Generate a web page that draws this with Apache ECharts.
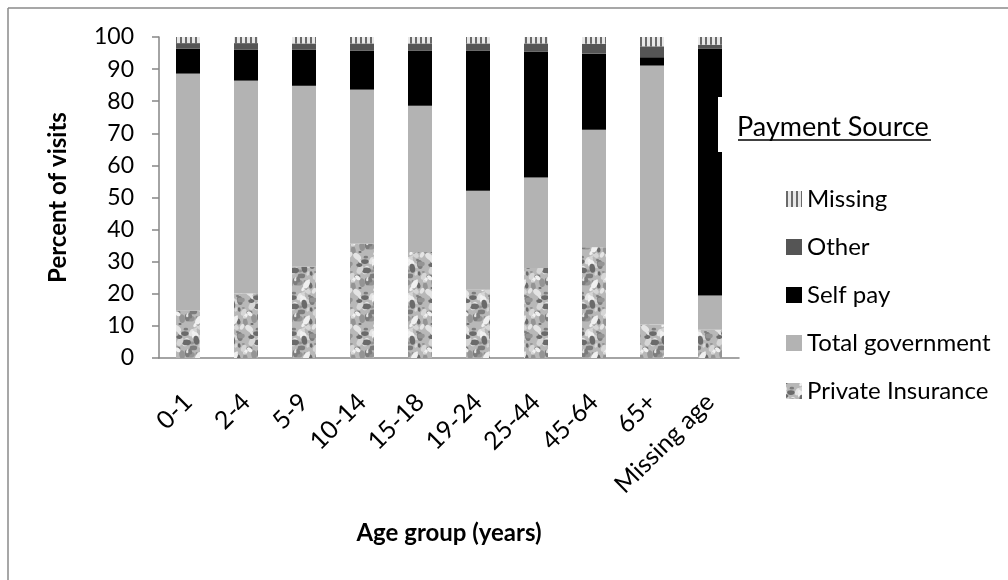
<!DOCTYPE html>
<html><head><meta charset="utf-8">
<script src="https://cdn.jsdelivr.net/npm/echarts@6/dist/echarts.min.js"></script>
<style>html,body{margin:0;padding:0;background:#fff}#c{width:1008px;height:580px}</style>
</head><body><div id="c"></div>
<script>
const categories = ['0-1','2-4','5-9','10-14','15-18','19-24','25-44','45-64','65+','Missing age'];
const privateIns = [14.7, 20.1, 28.4, 35.6, 33.0, 21.3, 28.0, 34.5, 10.4, 8.8];
const totalGov   = [73.9, 66.3, 56.4, 48.0, 45.6, 30.8, 28.2, 36.6, 80.7, 10.7];
const selfPay    = [7.8, 9.6, 11.2, 12.1, 17.1, 43.6, 39.3, 23.7, 2.6, 76.9];
const other      = [1.7, 2.1, 2.0, 2.3, 2.3, 2.3, 2.5, 3.1, 3.4, 1.2];
const missing    = [1.9, 1.9, 2.0, 2.0, 2.0, 2.0, 2.0, 2.1, 2.9, 2.4];
const yTicks = [0,10,20,30,40,50,60,70,80,90,100];

const FONT = 'Lato';

function granite() {
  const c = document.createElement('canvas'); c.width = 36; c.height = 36;
  const g = c.getContext('2d');
  g.fillStyle = '#b8b8b8'; g.fillRect(0,0,36,36);
  const shades = ['#6a6a6a','#e4e4e4','#949494','#d6d6d6','#7c7c7c','#f0f0f0'];
  for (let i = 0; i < 48; i++) {
    const x = (Math.sin(i * 12.9898) * 43758.5453 % 1 + 1) % 1 * 36;
    const y = (Math.sin(i * 78.233) * 12345.678 % 1 + 1) % 1 * 36;
    const r = 1.0 + ((i * 7) % 5) * 0.45;
    g.fillStyle = shades[i % 6];
    for (const dx of [-36,0,36]) for (const dy of [-36,0,36]) {
      g.beginPath(); g.ellipse(x+dx, y+dy, r*1.6, r, (i%4)*0.7, 0, Math.PI*2); g.fill();
    }
  }
  return c;
}
function stripes() {
  const c = document.createElement('canvas'); c.width = 5; c.height = 8;
  const g = c.getContext('2d');
  g.fillStyle = '#e8e8e8'; g.fillRect(0,0,5,8);
  g.fillStyle = '#6a6a6a'; g.fillRect(0,0,2,8);
  return c;
}

const chart = echarts.init(document.getElementById('c'));
const mk = (name, data, color) => ({
  name, type: 'bar', stack: 'a', data, barWidth: 24,
  itemStyle: { color }
});
chart.setOption({
  animation: false,
  textStyle: { fontFamily: FONT },
  graphic: [
    { type: 'line', shape: { x1: 8, y1: 8, x2: 1008, y2: 8 }, style: { stroke: '#8a8a8a', lineWidth: 1.5 }, z: 0 },
    { type: 'line', shape: { x1: 8, y1: 8, x2: 8, y2: 580 }, style: { stroke: '#8a8a8a', lineWidth: 1.5 }, z: 0 },
    { type: 'rect', shape: { x: 718, y: 97, width: 225, height: 55 }, style: { fill: '#fff' }, z: 100 },
    { type: 'text', x: 737, y: 141, style: { text: 'Payment Source', font: '27px ' + FONT, fill: '#000', textVerticalAlign: 'bottom' }, z: 101 },
    { type: 'line', shape: { x1: 738, y1: 140, x2: 931, y2: 140 }, style: { stroke: '#000', lineWidth: 1.5 }, z: 101 }
  ],
  legend: {
    orient: 'vertical', left: 781, top: 182,
    itemWidth: 16, itemHeight: 16, itemGap: 24,
    data: ['Missing','Other','Self pay','Total government','Private Insurance'],
    textStyle: { fontSize: 24, color: '#000', fontFamily: FONT },
    icon: 'rect', selectedMode: false
  },
  grid: { left: 159, right: 269, top: 37, bottom: 222 },
  xAxis: {
    type: 'category', data: categories,
    name: 'Age group (years)', nameLocation: 'middle', nameGap: 163,
    nameTextStyle: { fontSize: 24, fontWeight: 'bold', color: '#000' },
    axisLine: { lineStyle: { color: '#868686', width: 1.5 } },
    axisTick: { length: 7, lineStyle: { color: '#868686', width: 1.5 } },
    axisLabel: { rotate: 45, fontSize: 25, color: '#000', margin: 40, interval: 0 }
  },
  yAxis: {
    type: 'value', min: 0, max: 100, interval: 10,
    name: 'Percent of visits', nameLocation: 'middle', nameGap: 89,
    nameTextStyle: { fontSize: 24, fontWeight: 'bold', color: '#000' },
    axisLine: { show: true, lineStyle: { color: '#868686', width: 1.5 } },
    axisTick: { show: true, length: 7, lineStyle: { color: '#868686', width: 1.5 } },
    splitLine: { show: false },
    axisLabel: { fontSize: 23, color: '#000', margin: 25,
      formatter: v => yTicks.includes(v) ? String(v) : '' }
  },
  series: [
    mk('Private Insurance', privateIns, { image: granite(), repeat: 'repeat' }),
    mk('Total government', totalGov, '#b3b3b3'),
    mk('Self pay', selfPay, '#000000'),
    mk('Other', other, '#555555'),
    mk('Missing', missing, { image: stripes(), repeat: 'repeat' })
  ]
});
</script></body></html>
